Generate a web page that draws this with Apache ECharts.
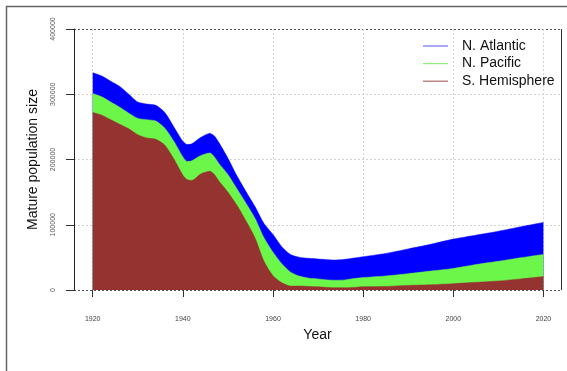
<!DOCTYPE html>
<html>
<head>
<meta charset="utf-8">
<script src="https://cdn.jsdelivr.net/npm/echarts@6/dist/echarts.min.js"></script>
<style>
html,body{margin:0;padding:0;background:#fff;}
#c{width:567px;height:371px;}
</style>
</head>
<body>
<div id="c"></div>
<script>
// ---- data ----
var years = [1920,1922,1924,1926,1928,1930,1932,1934,1936,1938,1940,1941,1942,1944,1946,1947,1948,1950,1952,1954,1956,1958,1960,1962,1964,1966,1968,1970,1972,1974,1976,1978,1980,1985,1990,1995,2000,2005,2010,2015,2020];
var sHemisphere = [272000,268000,261000,254000,247000,238000,233000,231000,222000,201000,176000,169000,168000,178000,182000,177000,167000,150000,130000,106000,80000,44000,22000,11000,6000,6000,5500,5000,4000,3500,3500,4000,5000,5500,7000,8000,9700,11700,13800,17000,20500];
var nPacific = [29000,28000,27000,26000,24000,25000,28000,28000,26000,27000,28000,28000,30000,28000,28000,27000,27000,27000,25000,27000,30000,36000,36000,29000,21000,15000,12500,12000,11500,11500,12000,13500,14000,16000,18000,21000,23300,27300,30200,32500,34000];
var nAtlantic = [32000,32000,32000,32000,29000,25000,24000,24000,24000,22000,24000,26000,26000,28000,30000,32000,32000,25000,20000,18000,18000,22000,27000,26000,27000,29000,30500,30500,31000,31000,31500,31500,32000,34500,38000,41000,45000,45000,46000,47500,49000];
var xTicks = [1920,1940,1960,1980,2000,2020];
var yTicks = [0,100000,200000,300000,400000];
// stacking order: bottom to top
var stackOrder = ['S. Hemisphere','N. Pacific','N. Atlantic'];
var legendOrder = ['N. Atlantic','N. Pacific','S. Hemisphere'];

// ---- styles ----
var colors = {'S. Hemisphere':'#94332F','N. Pacific':'#6CF64A','N. Atlantic':'#0000FF'};
var legendColors = {'S. Hemisphere':'#b06a66','N. Pacific':'#8af07a','N. Atlantic':'#7070f0'};
var FONT = "'Liberation Sans', Arial, sans-serif";

var valuesByName = {'S. Hemisphere':sHemisphere,'N. Pacific':nPacific,'N. Atlantic':nAtlantic};

// cumulative (stacked) tops, computed from the series arrays
var cumulative = {};
var running = years.map(function(){ return 0; });
stackOrder.forEach(function(n){
  running = running.map(function(r,i){ return r + valuesByName[n][i]; });
  cumulative[n] = running.slice();
});
function pairs(vals){ return years.map(function(y,i){ return [y, vals[i]]; }); }

// draw top layer first so lower layers overlay it
var drawOrder = stackOrder.slice().reverse();

var chart = echarts.init(document.getElementById('c'), null, {renderer:'canvas'});
var option = {
  backgroundColor:'#fff',
  animation:false,
  textStyle:{fontFamily:FONT},
  grid:{left:74,right:6,top:29,bottom:81,containLabel:false},
  xAxis:{
    type:'value', min:1915.85, max:2023.9,
    name:'Year', nameLocation:'middle', nameGap:38,
    nameTextStyle:{fontSize:14,color:'#111',fontFamily:FONT},
    axisLine:{show:false},
    axisTick:{show:true,length:7,customValues:xTicks,lineStyle:{color:'#333',width:1}},
    axisLabel:{customValues:xTicks,margin:26,fontSize:7,color:'#444',fontFamily:FONT,formatter:function(v){return String(v);}},
    splitLine:{show:true,lineStyle:{type:[2,2],color:'#d4d4d4',width:1}}
  },
  yAxis:{
    type:'value', min:0, max:400000, interval:100000,
    name:'Mature population size', nameLocation:'middle', nameGap:34,
    nameTextStyle:{fontSize:14,color:'#111',fontFamily:FONT},
    axisLine:{show:true,lineStyle:{color:'#222',width:1}},
    axisTick:{show:true,length:8,lineStyle:{color:'#333',width:1}},
    axisLabel:{rotate:90,margin:17,fontSize:7,color:'#5a5a5a',fontFamily:FONT,formatter:function(v){return String(v);}},
    splitLine:{show:true,lineStyle:{type:[2,2],color:['#555','#d4d4d4','#d4d4d4','#d4d4d4','#555'],width:1}}
  },
  legend:{
    orient:'vertical', left:423, top:39, padding:0, itemGap:3.6,
    itemWidth:25, itemHeight:1.2, icon:'rect',
    textStyle:{fontSize:14,color:'#111',lineHeight:14,padding:[0,0,0,9],fontFamily:FONT},
    data:legendOrder.map(function(n){ return {name:n, itemStyle:{color:legendColors[n]}}; })
  },
  series: drawOrder.map(function(n, k){
    return {
      name:n, type:'line', smooth:0.25, showSymbol:false, symbol:'none',
      color:colors[n], z:2+k,
      lineStyle:{width:0.5,color:colors[n]},
      areaStyle:{color:colors[n],opacity:1,origin:'start'},
      data:pairs(cumulative[n])
    };
  }),
  graphic:[
    {type:'line',shape:{x1:6,y1:6.5,x2:567,y2:6.5},style:{stroke:'#666',lineWidth:1.5},silent:true},
    {type:'line',shape:{x1:6.5,y1:6,x2:6.5,y2:371},style:{stroke:'#666',lineWidth:1.5},silent:true},
    {type:'line',shape:{x1:561.5,y1:29,x2:561.5,y2:290},style:{stroke:'#333',lineWidth:1},silent:true,z:10}
  ]
};
chart.setOption(option);
</script>
</body>
</html>
